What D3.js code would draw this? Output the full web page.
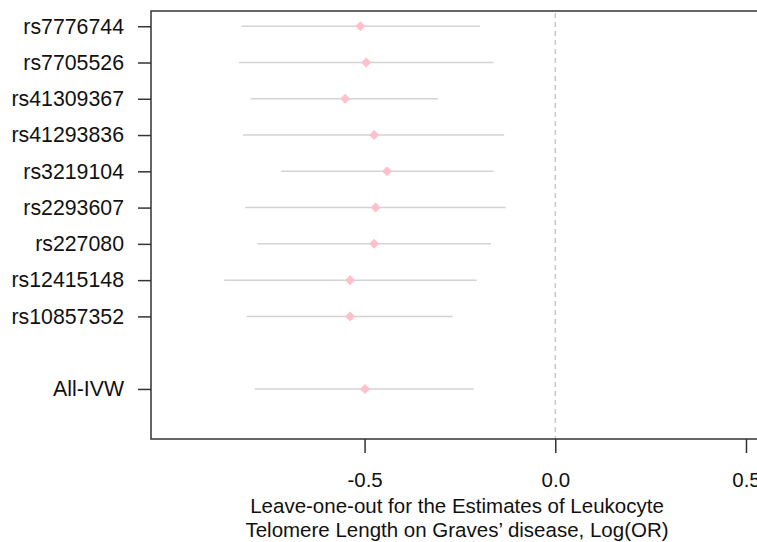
<!DOCTYPE html>
<html><head><meta charset="utf-8">
<script src="https://cdn.jsdelivr.net/npm/d3@7"></script>
<style>body{margin:0;background:#fff}svg{display:block}text{font-family:"Liberation Sans",Arial,sans-serif}</style>
</head><body>
<svg id="c" width="757" height="542"></svg>
<script>
const snps = ["rs7776744","rs7705526","rs41309367","rs41293836","rs3219104","rs2293607","rs227080","rs12415148","rs10857352","All-IVW"];
const rowPos = [1,2,3,4,5,6,7,8,9,11];
const estimate = [-0.511,-0.496,-0.551,-0.475,-0.441,-0.471,-0.475,-0.538,-0.538,-0.499];
const lower = [-0.823,-0.829,-0.799,-0.819,-0.719,-0.813,-0.781,-0.868,-0.809,-0.788];
const upper = [-0.197,-0.162,-0.308,-0.134,-0.162,-0.130,-0.169,-0.206,-0.269,-0.214];
const xTicks = [-0.5,0.0,0.5];
const xTitle = ["Leave-one-out for the Estimates of Leukocyte","Telomere Length on Graves\u2019 disease, Log(OR)"];

const svg = d3.select("#c");
const L=151, R=763, T=11, B=439;
const x = d3.scaleLinear().domain([-1.06,0.5446]).range([L,R]);
const y = d3.scaleLinear().domain([0.58,12.38]).range([T,B]);

// zero reference line
svg.append("line").attr("x1",x(0)).attr("x2",x(0)).attr("y1",T+2).attr("y2",B)
  .attr("stroke","#c8c8c8").attr("stroke-width",1.5).attr("stroke-dasharray","5,4");

const rows = snps.map((s,i)=>({s,pos:rowPos[i],e:estimate[i],lo:lower[i],hi:upper[i]}));
svg.append("g").selectAll("line").data(rows).join("line")
  .attr("x1",d=>x(d.lo)).attr("x2",d=>x(d.hi)).attr("y1",d=>y(d.pos)).attr("y2",d=>y(d.pos))
  .attr("stroke","#d3d3d3").attr("stroke-width",1.5);
const diamond = d3.symbol().type(d3.symbolDiamond2).size(64);
svg.append("g").selectAll("path").data(rows).join("path")
  .attr("d",diamond).attr("transform",d=>`translate(${x(d.e)},${y(d.pos)})`)
  .attr("fill","#ffc0cb");

// box
svg.append("path").attr("d",`M${R},${T}H${L}V${B}H${R}`).attr("fill","none").attr("stroke","#333").attr("stroke-width",1.5);

// y axis
const yAxis = d3.axisLeft(y).tickValues(rowPos).tickFormat((d,i)=>snps[i]).tickSize(13).tickPadding(14);
const gy = svg.append("g").attr("transform",`translate(${L},0)`).call(yAxis);
gy.select(".domain").remove();
gy.selectAll(".tick line").attr("stroke","#333").attr("stroke-width",1.5);
gy.selectAll(".tick text").attr("font-size",21.3).attr("fill","#111").attr("font-family","'Liberation Sans',Arial,sans-serif");

// x axis
const fmt = d3.format(".1f");
const xAxis = d3.axisBottom(x).tickValues(xTicks).tickFormat(d=>fmt(d).replace("\u2212","-")).tickSize(14).tickPadding(19);
const gx = svg.append("g").attr("transform",`translate(0,${B})`).call(xAxis);
gx.select(".domain").remove();
gx.selectAll(".tick line").attr("stroke","#333").attr("stroke-width",1.5);
gx.selectAll(".tick text").attr("font-size",20.5).attr("fill","#111").attr("font-family","'Liberation Sans',Arial,sans-serif");

svg.append("text").attr("x",(L+R)/2).attr("text-anchor","middle").attr("font-size",20.5).attr("fill","#111")
  .selectAll("tspan").data(xTitle).join("tspan").attr("x",(L+R)/2).attr("y",(d,i)=>513+i*24).text(d=>d);
</script>
</body></html>
